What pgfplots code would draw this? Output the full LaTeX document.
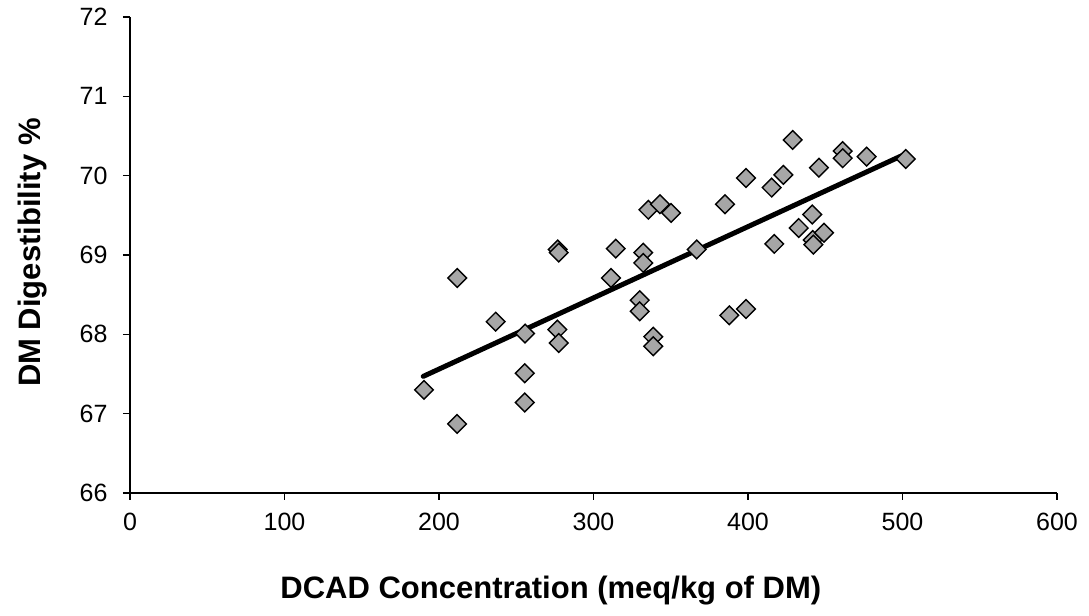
\documentclass[border=0pt]{standalone}
\usepackage{pgfplots}
\pgfplotsset{compat=1.18}
\usepackage{fontspec}
\setmainfont{Liberation Sans}
\definecolor{markgray}{HTML}{A6A6A6}

\begin{document}
\begin{tikzpicture}
\begin{axis}[
name=ax,
scale only axis,
width=927pt, height=476pt,
xmin=0, xmax=600,
ymin=66, ymax=72,
xtick={0,100,...,600},
ytick={66,67,...,72},
axis lines=left,
axis line style={line width=1.8pt, -},
tick style={line width=1.4pt, black},
tick align=outside,
major tick length=7pt,
ticklabel style={font=\fontsize{25}{30}\selectfont},
/pgf/number format/assume math mode=true,
xticklabel style={yshift=-10pt},
yticklabel style={xshift=-12pt},
xlabel={\bfseries DCAD Concentration (meq/kg of DM)},
ylabel={\bfseries DM Digestibility \%},
label style={font=\fontsize{31}{36}\selectfont},
xlabel style={at={(axis description cs:0.454,-0.2227)}, anchor=base},
ylabel style={at={(axis description cs:-0.1046,0.505)}, anchor=center},
clip=false,
]

\addplot[
only marks,
mark=square*,
mark size=6.6pt,
mark options={rotate=45, fill=markgray, draw=black, line width=1.4pt},
]
coordinates {
(190.3,67.30)
(211.7,66.87)
(211.8,68.71)
(236.7,68.16)
(255.7,68.01)
(255.5,67.51)
(255.5,67.14)
(276.6,68.06)
(277.5,67.89)
(276.8,69.07)
(277.5,69.03)
(311.3,68.71)
(314.4,69.08)
(332.2,69.03)
(332.2,68.90)
(329.9,68.43)
(329.9,68.29)
(338.7,67.97)
(338.7,67.85)
(335.5,69.57)
(343.0,69.64)
(350.2,69.53)
(366.8,69.07)
(387.9,68.24)
(398.7,68.32)
(385.1,69.64)
(398.7,69.97)
(415.3,69.85)
(422.9,70.01)
(428.9,70.45)
(417.0,69.14)
(432.8,69.34)
(441.6,69.51)
(441.9,69.19)
(442.3,69.13)
(449.2,69.28)
(445.9,70.10)
(461.3,70.31)
(461.3,70.22)
(476.8,70.24)
(502.1,70.21)
};

% trend line
\addplot[black, line width=5pt, line cap=round]
coordinates {
(189.8,67.47)
(501.6,70.27)
};

\end{axis}
\pgfresetboundingbox
\path ([shift={(-130pt,-123pt)}]ax.south west) rectangle ([shift={(32pt,17pt)}]ax.north east);
\end{tikzpicture}
\end{document}
